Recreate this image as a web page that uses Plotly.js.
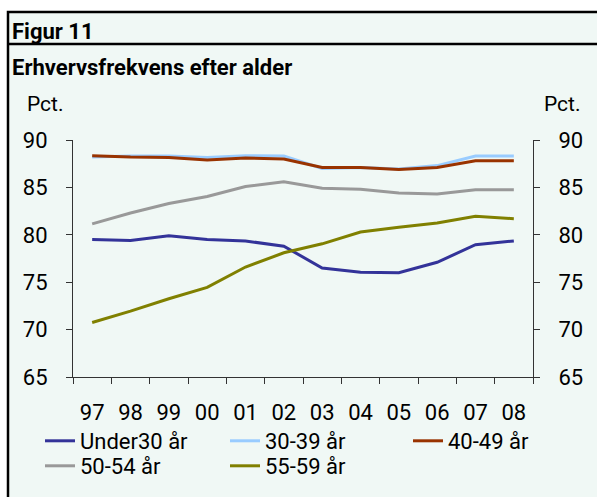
<!DOCTYPE html>
<html>
<head>
<meta charset="utf-8">
<script src="https://cdn.plot.ly/plotly-3.0.1.min.js"></script>
<style>html,body{margin:0;padding:0;background:#fff;}#chart{width:597px;height:497px;}</style>
</head>
<body>
<div id="chart"></div>
<script>
const years = ["97","98","99","00","01","02","03","04","05","06","07","08"];
const under30 = [79.5, 79.4, 79.9, 79.5, 79.35, 78.8, 76.5, 76.05, 76.0, 77.1, 78.95, 79.35];
const age3039 = [88.2, 88.3, 88.3, 88.15, 88.35, 88.3, 87.0, 87.1, 86.95, 87.3, 88.3, 88.3];
const age4049 = [88.35, 88.2, 88.15, 87.9, 88.1, 88.0, 87.1, 87.1, 86.9, 87.1, 87.8, 87.8];
const age5054 = [81.15, 82.3, 83.3, 84.05, 85.1, 85.6, 84.9, 84.8, 84.4, 84.3, 84.75, 84.75];
const age5559 = [70.75, 71.95, 73.25, 74.45, 76.6, 78.1, 79.05, 80.3, 80.8, 81.25, 81.95, 81.7];
const seriesNames = ["Under30 år","30-39 år","40-49 år","50-54 år","55-59 år"];
const seriesColors = ["#333399","#99ccff","#993300","#999999","#808000"];

const W = 597, H = 497;
const L = 73, R = 533, T = 140, B = 377;
const px = v => (v - L) / (R - L);
const py = v => (B - v) / (B - T);

const FONT = "Roboto, 'Open Sans', sans-serif";
const seriesData = [under30, age3039, age4049, age5054, age5559];
const axisOf = ["y", "y", "y2", "y", "y"];
const legendIds = ["legend", "legend2", "legend3", "legend4", "legend5"];
const legendPos = [[40, 441], [225, 441], [408, 441], [40, 466], [225, 466]];

const traces = seriesData.map((ys, i) => ({
  type: "scatter", mode: "lines", x: years, y: ys, name: seriesNames[i],
  xaxis: "x", yaxis: axisOf[i], legend: legendIds[i],
  line: {color: seriesColors[i], width: 3}
}));

const bg = "#f0f8f5";
const yBase = {
  range: [65, 90], dtick: 5, tick0: 65, showgrid: false, zeroline: false,
  showline: true, linecolor: "#333", linewidth: 1,
  ticks: "outside", ticklen: 6, tickcolor: "#333", ticklabelstandoff: 14,
  tickfont: {family: FONT, size: 22}
};
const layout = {
  width: W, height: H,
  margin: {l: L, r: W - R, t: T, b: H - B, pad: 0},
  paper_bgcolor: "#ffffff",
  plot_bgcolor: bg,
  font: {family: FONT, size: 22, color: "#000"},
  showlegend: true,
  xaxis: {
    type: "category", range: [-0.5, years.length - 0.5],
    showgrid: false, zeroline: false,
    showline: true, linecolor: "#333", linewidth: 1,
    ticks: "outside", tickson: "boundaries", ticklen: 6, tickcolor: "#333",
    ticklabelstandoff: 16,
    tickfont: {family: FONT, size: 22}
  },
  yaxis: Object.assign({}, yBase),
  yaxis2: Object.assign({}, yBase, {overlaying: "y", side: "right", anchor: "x"}),
  shapes: [
    {type: "rect", xref: "paper", yref: "paper", layer: "below",
     x0: px(8), x1: px(620), y0: py(520), y1: py(12),
     fillcolor: bg, line: {color: "#000", width: 2.5}},
    {type: "line", xref: "paper", yref: "paper", layer: "below",
     x0: px(8), x1: px(620), y0: py(44), y1: py(44),
     line: {color: "#000", width: 2.5}}
  ],
  annotations: [
    {text: "<b>Figur 11</b>", xref: "paper", yref: "paper", x: px(10), y: py(31),
     xanchor: "left", yanchor: "middle", showarrow: false,
     font: {family: FONT, size: 22, color: "#000"}},
    {text: "<b>Erhvervsfrekvens efter alder</b>", xref: "paper", yref: "paper", x: px(10), y: py(67),
     xanchor: "left", yanchor: "middle", showarrow: false,
     font: {family: FONT, size: 22, color: "#000"}},
    {text: "Pct.", xref: "paper", yref: "paper", x: px(25), y: py(104),
     xanchor: "left", yanchor: "middle", showarrow: false,
     font: {family: FONT, size: 21, color: "#000"}},
    {text: "Pct.", xref: "paper", yref: "paper", x: px(583), y: py(104),
     xanchor: "right", yanchor: "middle", showarrow: false,
     font: {family: FONT, size: 21, color: "#000"}}
  ]
};
legendIds.forEach((id, i) => {
  layout[id] = {
    orientation: "h", xref: "container", yref: "container",
    x: legendPos[i][0] / W, y: 1 - legendPos[i][1] / H,
    xanchor: "left", yanchor: "middle",
    bgcolor: "rgba(0,0,0,0)", borderwidth: 0,
    font: {family: FONT, size: 22, color: "#000"},
    itemwidth: 30
  };
});

Plotly.newPlot("chart", traces, layout, {staticPlot: true, displayModeBar: false});
</script>
</body>
</html>
